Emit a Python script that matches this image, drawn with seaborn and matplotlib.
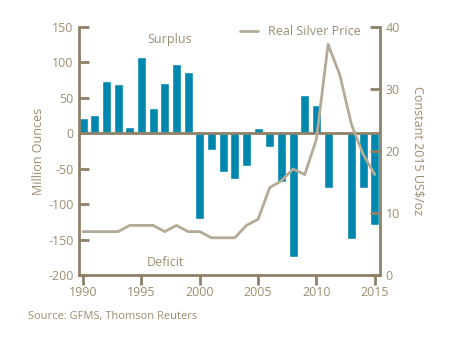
import matplotlib
matplotlib.use("Agg")
import matplotlib.pyplot as plt
import seaborn as sns
import pandas as pd

years = list(range(1990, 2016))
balance = [22, 26, 74, 70, 9, 107, 36, 71, 98, 86,
           -121, -23, -55, -64, -46, 8, -19, -69, -175, 54,
           40, -77, 3, -149, -77, -129]
price = [7, 7, 7, 7, 8, 8, 8, 7, 8, 7,
         7, 6, 6, 6, 8, 9, 14.1, 15.2, 17.1, 16.2,
         21.9, 37.2, 32.3, 24.3, 19.5, 16.2]
left_ticks = [-200, -150, -100, -50, 0, 50, 100, 150]
right_ticks = [0, 10, 20, 30, 40]
x_ticks = [1990, 1995, 2000, 2005, 2010, 2015]

BAR = "#0087AD"
LINE = "#B3AB97"
SPINE = "#8E8168"
TXT = "#9C8D70"

sns.set_theme(style="white")
plt.rcParams['font.family'] = ['Open Sans', 'DejaVu Sans']

df = pd.DataFrame({"year": years, "balance": balance, "price": price})

fig = plt.figure(figsize=(4.53, 3.47), dpi=100)
ax = fig.add_axes([79/453, 1-275/347, (380-79)/453, (275-27)/347])

sns.barplot(data=df, x="year", y="balance", native_scale=True, color=BAR,
            saturation=1, width=0.78, ax=ax, zorder=2)
ax.axhline(0, color=SPINE, lw=2, zorder=3)
ax.set_xlim(1989.65, 2015.45)
ax.set_ylim(-200, 150)
ax.set_yticks(left_ticks)
ax.set_xticks(x_ticks)
ax.set_xticklabels([str(t) for t in x_ticks])
ax.set_yticklabels([str(t) for t in left_ticks])
ax.set_xlabel("")
ax.set_ylabel("Million Ounces", color=TXT, fontsize=9, labelpad=2)

ax2 = ax.twinx()
sns.lineplot(data=df, x="year", y="price", color=LINE, lw=2, ax=ax2,
             label="Real Silver Price", zorder=4)
ax2.set_ylim(0, 40)
ax2.set_yticks(right_ticks)
ax2.set_yticklabels([str(t) for t in right_ticks])
ax2.set_xlim(1989.65, 2015.45)
ax2.set_ylabel("Constant 2015 US$/oz", color=TXT, fontsize=9, rotation=270, labelpad=18)
ax2.set_xlabel("")

for a in (ax, ax2):
    for s in a.spines.values():
        s.set_visible(False)
        s.set_color(SPINE)
        s.set_linewidth(2)
ax.spines['left'].set_visible(True)
ax.spines['bottom'].set_visible(True)
ax2.spines['right'].set_visible(True)

ax.tick_params(axis='y', direction='in', length=7, width=2, color=SPINE,
               labelcolor=TXT, labelsize=9, pad=4, left=True)
ax.tick_params(axis='x', direction='out', length=7, width=2, color=SPINE,
               labelcolor=TXT, labelsize=9, pad=1, bottom=True)
ax2.tick_params(axis='y', direction='in', length=7, width=2, color=SPINE,
                labelcolor=TXT, labelsize=9, pad=4, right=True)

leg = ax2.legend(loc="lower right", bbox_to_anchor=(0.935, 0.955), frameon=False,
                 fontsize=9, handlelength=1.4, handletextpad=0.8,
                 borderaxespad=0, borderpad=0)
for t in leg.get_texts():
    t.set_color(TXT)

fig.text(170/453, 1-40/347, "Surplus", color=TXT, fontsize=9, ha="center", va="center")
fig.text(165/453, 1-262/347, "Deficit", color=TXT, fontsize=9, ha="center", va="center")
fig.text(28/453, 1-317/347, "Source: GFMS, Thomson Reuters", color=TXT, fontsize=8,
         ha="left", va="center")

fig.savefig("out.png", dpi=100)
